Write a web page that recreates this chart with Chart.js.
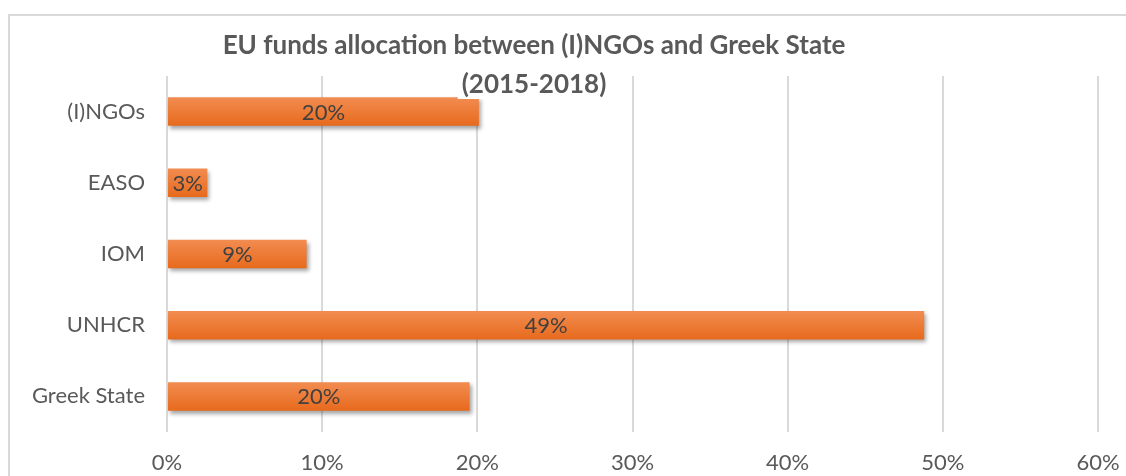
<!DOCTYPE html>
<html>
<head>
<meta charset="utf-8">
<script src="https://cdn.jsdelivr.net/npm/chart.js@4.4.0/dist/chart.umd.min.js"></script>
<style>
  html, body { margin: 0; padding: 0; background: #fff; }
  #wrap { position: relative; width: 1126px; height: 476px; overflow: hidden; }
  #frame { position: absolute; left: 8px; top: 14px; width: 1200px; height: 600px; border: 2px solid #d9d9d9; }
  canvas { position: absolute; left: 0; top: 0; }
</style>
</head>
<body>
<div id="wrap">
  <div id="frame"></div>
  <canvas id="chart" width="1126" height="476"></canvas>
</div>
<script>
const categories = ['(I)NGOs', 'EASO', 'IOM', 'UNHCR', 'Greek State'];
const shares = [20.1, 2.6, 9.0, 48.8, 19.5];
const shareLabels = ['20%', '3%', '9%', '49%', '20%'];
const titleLines = ['EU funds allocation between (I)NGOs and Greek State', '(2015-2018)'];

const fontFamily = 'Lato, "Open Sans", sans-serif';

function barGradient(context) {
  const chart = context.chart;
  const yScale = chart.scales.y;
  if (!chart.chartArea || !yScale) return '#ec7a32';
  const y = yScale.getPixelForValue(context.dataIndex);
  const half = 15;
  const g = chart.ctx.createLinearGradient(0, y - half, 0, y + half);
  g.addColorStop(0, '#f28d52');
  g.addColorStop(1, '#e7691b');
  return g;
}

const barShadow = {
  id: 'barShadow',
  beforeDatasetsDraw(chart) {
    const ctx = chart.ctx;
    ctx.save();
    ctx.shadowColor = 'rgba(0,0,0,0.35)';
    ctx.shadowBlur = 4;
    ctx.shadowOffsetX = 2;
    ctx.shadowOffsetY = 3;
  },
  afterDatasetsDraw(chart) {
    chart.ctx.restore();
  }
};

const barLabels = {
  id: 'barLabels',
  afterDatasetsDraw(chart) {
    const ctx = chart.ctx;
    const meta = chart.getDatasetMeta(0);
    ctx.save();
    ctx.font = '22px ' + fontFamily;
    ctx.fillStyle = '#404040';
    ctx.textAlign = 'center';
    ctx.textBaseline = 'middle';
    meta.data.forEach((bar, i) => {
      const x = (bar.base + bar.x) / 2;
      ctx.fillText(shareLabels[i], x, bar.y + 1);
    });
    ctx.restore();
  }
};

const chartTitle = {
  id: 'chartTitle',
  afterDraw(chart) {
    const ctx = chart.ctx;
    ctx.save();
    ctx.font = 'bold 26px ' + fontFamily;
    ctx.textAlign = 'center';
    ctx.textBaseline = 'middle';
    const cx = 534;
    const ys = [46, 85];
    titleLines.forEach((line, i) => {
      const w = ctx.measureText(line).width;
      ctx.fillStyle = '#fff';
      ctx.fillRect(cx - w / 2 - 4, ys[i] - 14, w + 8, 28);
      ctx.fillStyle = '#595959';
      ctx.fillText(line, cx, ys[i]);
    });
    ctx.restore();
  }
};

new Chart(document.getElementById('chart').getContext('2d'), {
  type: 'bar',
  data: {
    labels: categories,
    datasets: [{
      label: 'Share',
      data: shares,
      backgroundColor: barGradient,
      borderWidth: 0,
      barPercentage: 0.4,
      categoryPercentage: 1.0
    }]
  },
  options: {
    indexAxis: 'y',
    responsive: false,
    animation: false,
    layout: { padding: { top: 76, left: 8, right: 28, bottom: 0 } },
    plugins: {
      legend: { display: false },
      title: { display: false },
      tooltip: { enabled: false }
    },
    scales: {
      x: {
        min: 0,
        max: 60,
        ticks: {
          stepSize: 10,
          padding: 18,
          color: '#595959',
          font: { family: fontFamily, size: 22 },
          callback: v => v + '%'
        },
        grid: { color: '#d9d9d9', lineWidth: 2, drawTicks: false },
        border: { display: false },
        afterFit(scale) {
          scale.height = 44;
          scale.paddingLeft = 0;
          scale.paddingRight = 0;
        }
      },
      y: {
        ticks: {
          padding: 22,
          color: '#595959',
          font: { family: fontFamily, size: 22 }
        },
        grid: { display: false, drawTicks: false },
        border: { display: false },
        afterFit(scale) { scale.width = 159; }
      }
    }
  },
  plugins: [barShadow, barLabels, chartTitle]
});
</script>
</body>
</html>
